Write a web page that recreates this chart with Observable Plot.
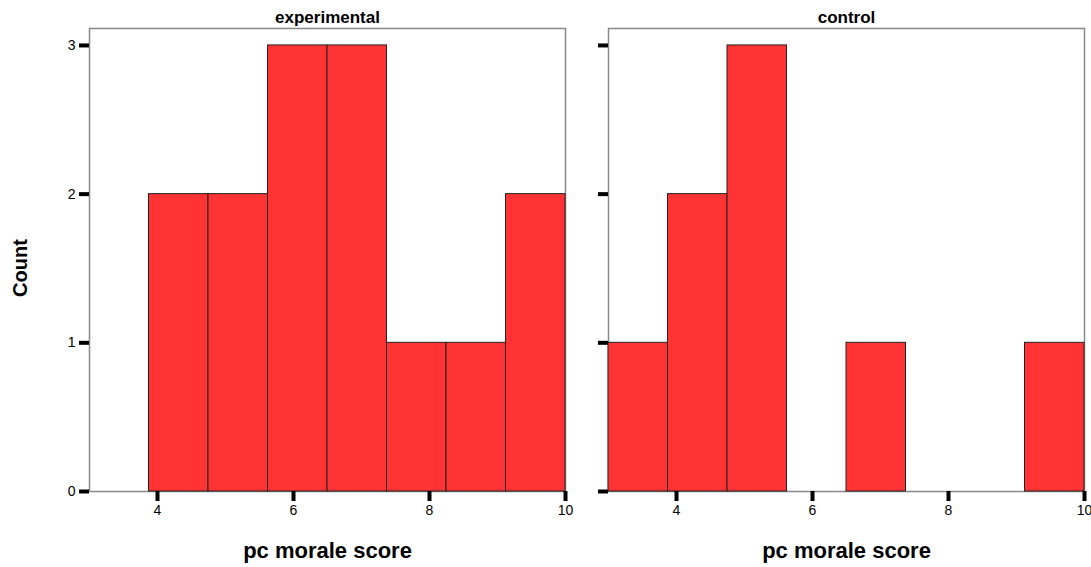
<!DOCTYPE html>
<html>
<head>
<meta charset="utf-8">
<script src="https://cdn.jsdelivr.net/npm/d3@7"></script>
<script src="https://cdn.jsdelivr.net/npm/@observablehq/plot@0.6"></script>
<style>
  html, body { margin: 0; padding: 0; background: #fff; }
  svg { font-family: "Liberation Sans", Arial, Helvetica, sans-serif; }
</style>
</head>
<body>
<div id="chart"></div>
<script>
const groups = ["experimental", "control"];
const binEdges = [3, 3.875, 4.75, 5.625, 6.5, 7.375, 8.25, 9.125, 10];
const experimentalCounts = [0, 2, 2, 3, 3, 1, 1, 2];
const controlCounts = [1, 2, 3, 0, 1, 0, 0, 1];
const xTicks = [4, 6, 8, 10];
const yTicks = [0, 1, 2, 3];
const xLabel = "pc morale score";
const yLabel = "Count";

const bars = [];
[[groups[0], experimentalCounts], [groups[1], controlCounts]].forEach(([g, counts]) => {
  counts.forEach((c, i) => {
    if (c > 0) bars.push({group: g, x1: binEdges[i], x2: binEdges[i + 1], count: c});
  });
});

const font = "Liberation Sans, Arial, Helvetica, sans-serif";

const chart = Plot.plot({
  width: 1091,
  height: 567,
  marginLeft: 89,
  marginRight: 7,
  marginTop: 28,
  marginBottom: 76,
  style: {fontFamily: font, background: "#fff", color: "#000"},
  fx: {domain: groups, paddingInner: 0.083, paddingOuter: 0, axis: null},
  x: {domain: [3, 10]},
  y: {domain: [0, 3.114]},
  marks: [
    Plot.frame({stroke: "#888", strokeWidth: 1.5}),
    Plot.rectY(bars, {fx: "group", x1: "x1", x2: "x2", y1: 0, y2: "count", fill: "#ff3333", stroke: "#222", strokeWidth: 1}),
    // facet titles
    Plot.text(groups, {fx: d => d, text: d => d, frameAnchor: "top", lineAnchor: "middle", dy: -11, fontSize: 17, fontWeight: "bold"}),
    // x ticks (both panels)
    Plot.axisX({ticks: xTicks, tickSize: 10, strokeWidth: 4, stroke: "#000", tickFormat: () => "", label: null}),
    // x tick labels
    Plot.text(xTicks, {x: d => d, text: d => String(d), frameAnchor: "bottom", lineAnchor: "middle", dy: 19, fontSize: 14}),
    // y ticks (both panels)
    Plot.axisY({ticks: yTicks, tickSize: 10, strokeWidth: 4, stroke: "#000", tickFormat: () => "", facetAnchor: null, label: null}),
    // y tick labels (left panel only)
    Plot.text(yTicks, {fx: () => groups[0], y: d => d, text: d => String(d), frameAnchor: "left", dx: -14, textAnchor: "end", lineAnchor: "middle", fontSize: 14}),
    // x axis titles
    Plot.text(groups, {fx: d => d, text: () => xLabel, frameAnchor: "bottom", lineAnchor: "middle", dy: 59, fontSize: 22, fontWeight: "bold"}),
    // y axis title
    Plot.text([groups[0]], {fx: d => d, text: () => yLabel, frameAnchor: "left", textAnchor: "middle", lineAnchor: "middle", dx: -69, dy: 8, rotate: -90, fontSize: 20, fontWeight: "bold"})
  ]
});
document.getElementById("chart").appendChild(chart);
</script>
</body>
</html>
